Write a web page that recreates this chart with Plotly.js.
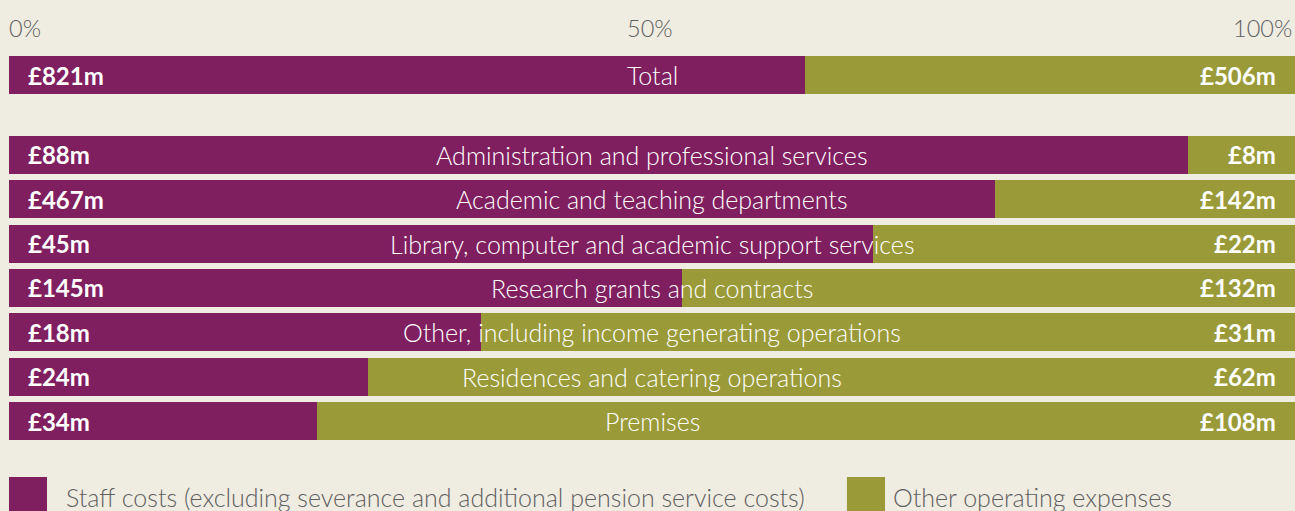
<!DOCTYPE html>
<html><head><meta charset="utf-8">
<script src="https://cdn.plot.ly/plotly-3.0.1.min.js"></script>
<style>html,body{margin:0;padding:0;background:#efece2;}</style>
</head><body>
<div id="chart" style="width:1295px;height:511px;"></div>
<script>
const categories = ["Total","Administration and professional services","Academic and teaching departments","Library, computer and academic support services","Research grants and contracts","Other, including income generating operations","Residences and catering operations","Premises"];
const positions = [0, 1.8, 2.8, 3.8, 4.8, 5.8, 6.8, 7.8];
const staffCosts = [821, 88, 467, 45, 145, 18, 24, 34];
const otherExpenses = [506, 8, 142, 22, 132, 31, 62, 108];
const tickValues = [0, 50, 100];
const tickLabels = ["0%", "50%", "100%"];
const seriesNames = ["Staff costs (excluding severance and additional pension service costs)", "Other operating expenses"];

const PURPLE = "#7f1f60", OLIVE = "#9a9a38", GREY = "#5f5f5f";
const FONT = "Source Sans Pro, Lato, sans-serif";

const traces = [
  {type:"bar", orientation:"h", y:positions, x:staffCosts, name:seriesNames[0], marker:{color:PURPLE}, width:0.857, hoverinfo:"none"},
  {type:"bar", orientation:"h", y:positions, x:otherExpenses, name:seriesNames[1], marker:{color:OLIVE}, width:0.857, hoverinfo:"none"}
];

const annotations = [];
categories.forEach((c,i)=>{
  annotations.push({x:50, y:positions[i], xref:"x", yref:"y", text:c, showarrow:false, xanchor:"center", yanchor:"middle", font:{family:FONT, size:25, color:"#ffffff", weight:300}});
  annotations.push({x:0, y:positions[i], xref:"x", yref:"y", text:"£"+staffCosts[i]+"m", showarrow:false, xanchor:"left", yanchor:"middle", xshift:17, font:{family:FONT, size:24, color:"#ffffff", weight:700}});
  annotations.push({x:100, y:positions[i], xref:"x", yref:"y", text:"£"+otherExpenses[i]+"m", showarrow:false, xanchor:"right", yanchor:"middle", xshift:-17, font:{family:FONT, size:24, color:"#ffffff", weight:700}});
});
const anchors = ["left","center","right"];
tickValues.forEach((v,i)=>{
  annotations.push({x:v, y:0.945, xref:"x", yref:"paper", text:tickLabels[i], showarrow:false, xanchor:anchors[i], yanchor:"middle", xshift: i===2 ? -1 : -2, font:{family:FONT, size:23.5, color:GREY, weight:300}});
});
annotations.push({x:0.0443, y:0.027, xref:"paper", yref:"paper", text:seriesNames[0], showarrow:false, xanchor:"left", yanchor:"middle", xshift:-2, font:{family:FONT, size:25, color:GREY, weight:300}});
annotations.push({x:0.6874, y:0.027, xref:"paper", yref:"paper", text:seriesNames[1], showarrow:false, xanchor:"left", yanchor:"middle", xshift:-2, font:{family:FONT, size:25, color:GREY, weight:300}});

const shapes = [
  {type:"rect", xref:"paper", yref:"paper", x0:0, x1:0.02955, y0:-0.05, y1:0.0665, fillcolor:PURPLE, line:{width:0}},
  {type:"rect", xref:"paper", yref:"paper", x0:0.6516, x1:0.6812, y0:-0.05, y1:0.0665, fillcolor:OLIVE, line:{width:0}}
];

const layout = {
  width:1295, height:511,
  margin:{l:9, r:0, t:0, b:0, pad:0},
  paper_bgcolor:"#efece2", plot_bgcolor:"#efece2",
  barmode:"stack", barnorm:"percent",
  showlegend:false,
  xaxis:{range:[0,100], showgrid:false, zeroline:false, showticklabels:false, fixedrange:true},
  yaxis:{range:[9.829,-1.691], showgrid:false, zeroline:false, showticklabels:false, fixedrange:true},
  annotations:annotations, shapes:shapes
};
Plotly.newPlot("chart", traces, layout, {displayModeBar:false, staticPlot:true});
</script>
</body></html>
